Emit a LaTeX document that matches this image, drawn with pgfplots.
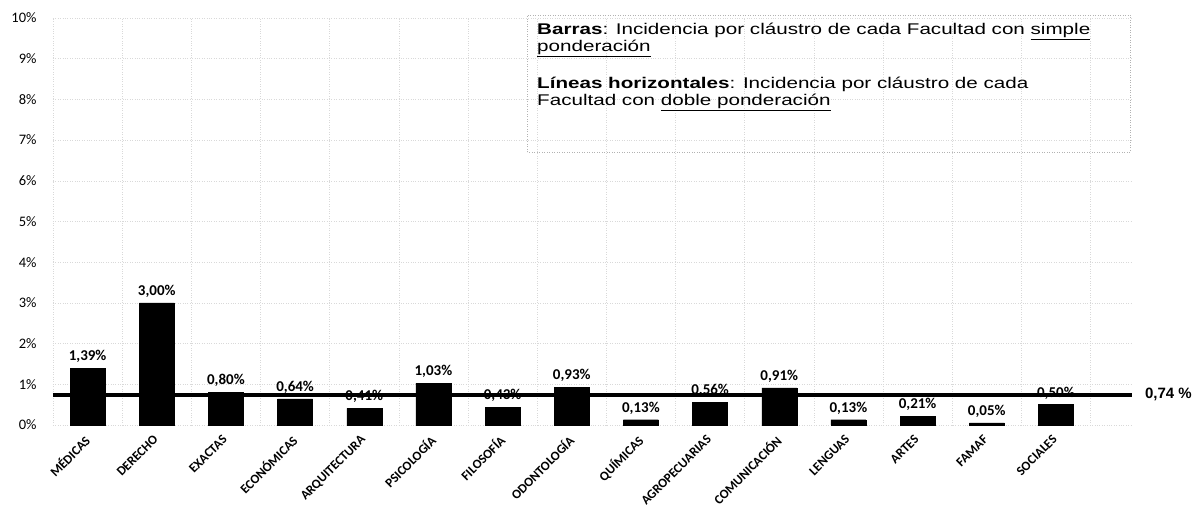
\documentclass[border=0pt]{standalone}
\usepackage{fontspec}
\setmainfont{Carlito}
\newfontfamily\arial{Liberation Sans}
\newfontfamily\arialw[FakeStretch=1.33]{Liberation Sans}
\usepackage{pgfplots}
\pgfplotsset{compat=1.18}
\begin{document}
\begin{tikzpicture}
\begin{axis}[
  scale only axis,
  width=1079pt, height=407pt,
  xmin=-0.5, xmax=15.1,
  ymin=0, ymax=10,
  ybar, bar width=35pt,
  axis line style={draw=none},
  tick style={draw=none},
  xtick={0,...,14},
  xticklabels={MÉDICAS,DERECHO,EXACTAS,ECONÓMICAS,ARQUITECTURA,PSICOLOGÍA,FILOSOFÍA,ODONTOLOGÍA,QUÍMICAS,AGROPECUARIAS,COMUNICACIÓN,LENGUAS,ARTES,FAMAF,SOCIALES},
  xticklabel style={rotate=45, anchor=north east, font=\fontsize{13}{13}\selectfont\bfseries, xshift=-3pt, yshift=3pt},
  ytick={0,1,...,10},
  yticklabel={\pgfmathprintnumber{\tick}\%},
  yticklabel style={font=\fontsize{14.5}{14.5}\selectfont, xshift=-13pt},
  /pgf/number format/assume math mode=true,
  ymajorgrids, minor xtick={-0.5,0.5,...,14.5}, xminorgrids,
  grid style={dotted, gray!30, line width=0.4pt},
  minor grid style={dotted, gray!30, line width=0.4pt},
  clip=false,
]
\addplot[fill=black, draw=black,
  nodes near coords={\pgfmathprintnumber[use comma, fixed, fixed zerofill, precision=2]{\pgfplotspointmeta}\%},
  nodes near coords style={font=\fontsize{15}{15}\selectfont\bfseries, yshift=2pt},
  point meta=explicit]
  table[meta=v] {
x y v
0 1.39 1.39
1 3.00 3.00
2 0.80 0.80
3 0.64 0.64
4 0.41 0.41
5 1.03 1.03
6 0.43 0.43
7 0.93 0.93
8 0.13 0.13
9 0.56 0.56
10 0.91 0.91
11 0.13 0.13
12 0.21 0.21
13 0.05 0.05
14 0.50 0.50
};
\addplot[sharp plot, black, line width=3.5pt] coordinates {(-0.5,0.74) (15.1,0.74)}
  node[pos=1, anchor=west, xshift=8pt, font=\arial\fontsize{15}{15}\selectfont\bfseries] {0,74 \%};
\end{axis}
\draw[dotted, gray!60, line width=0.5pt] (474pt,273pt) rectangle (1077pt,410pt);
\node[anchor=north west, align=left, inner sep=0pt, font=\arialw\fontsize{15.5}{17}\selectfont] at (484pt,402pt)
 {\textbf{Barras}: Incidencia por cláustro de cada Facultad con \underline{simple}\\
  \underline{ponderación}\\[20pt]
  \textbf{Líneas horizontales}: Incidencia por cláustro de cada\\
  Facultad con \underline{doble ponderación}};
\pgfresetboundingbox
\path[use as bounding box] (-53pt,-92pt) rectangle (1142pt,425pt);
\end{tikzpicture}
\end{document}
